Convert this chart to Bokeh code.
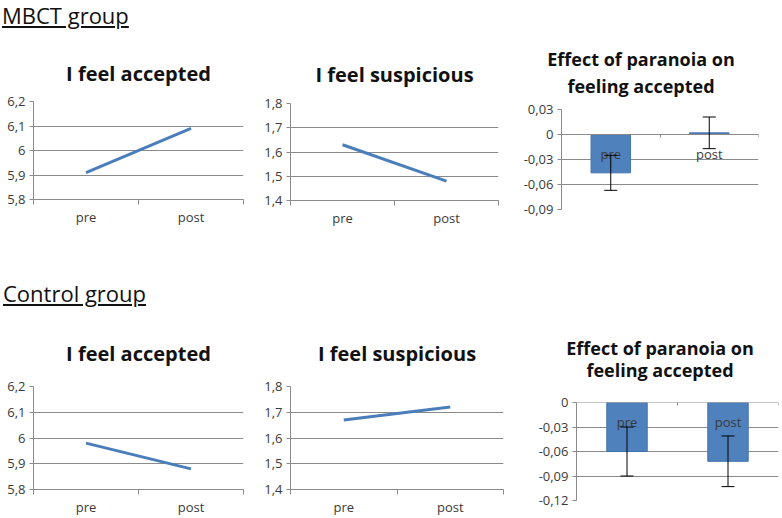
from bokeh.plotting import figure
from bokeh.models import (Range1d, FixedTicker, CustomJSTickFormatter, Div,
                          ColumnDataSource, Whisker, TeeHead)
from bokeh.layouts import column, row
from bokeh.embed import file_html
from bokeh.resources import INLINE

# ---- data ----
time_labels = ["pre", "post"]

mbct_accepted = [5.91, 6.09]
mbct_suspicious = [1.63, 1.48]
mbct_effect = [-0.046, 0.002]
mbct_effect_err = [0.021, 0.019]

control_accepted = [5.98, 5.88]
control_suspicious = [1.67, 1.72]
control_effect = [-0.060, -0.072]
control_effect_err = [0.030, 0.031]

accepted_ticks = [5.8, 5.9, 6.0, 6.1, 6.2]
suspicious_ticks = [1.4, 1.5, 1.6, 1.7, 1.8]
mbct_effect_ticks = [-0.09, -0.06, -0.03, 0.0, 0.03]
control_effect_ticks = [-0.12, -0.09, -0.06, -0.03, 0.0]

effect_title = ["Effect of paranoia on", "feeling accepted"]

# ---- style ----
FONT = "Open Sans"
BLUE_LINE = "#4A7EBB"
BLUE_BAR = "#4F81BD"
GRID = "#8a8a8a"
LABEL = "#3a3a3a"

num_fmt = CustomJSTickFormatter(code="""
    var v = Math.round(tick * 100) / 100;
    if (v === 0) { v = 0; }
    return v.toString().replace('.', ',');
""")


def base_fig(width, height, ticks, left, right, top, bottom):
    p = figure(width=width, height=height, output_backend="svg", toolbar_location=None,
               x_range=Range1d(0, len(time_labels)),
               y_range=Range1d(min(ticks), max(ticks)),
               min_border_left=left, min_border_right=right,
               min_border_top=top, min_border_bottom=bottom)
    p.outline_line_color = None
    p.background_fill_color = "white"
    p.border_fill_color = "white"
    p.xgrid.visible = False
    p.ygrid.grid_line_color = GRID
    p.ygrid.grid_line_width = 1
    # y axis
    p.yaxis.ticker = FixedTicker(ticks=ticks)
    p.yaxis.formatter = num_fmt
    p.yaxis.axis_line_color = GRID
    p.yaxis.major_tick_line_color = GRID
    p.yaxis.major_tick_out = 4
    p.yaxis.major_tick_in = 0
    p.yaxis.minor_tick_line_color = None
    p.yaxis.major_label_text_font = FONT
    p.yaxis.major_label_text_font_size = "13px"
    p.yaxis.major_label_text_color = LABEL
    p.yaxis.major_label_standoff = 4
    # x axis: category labels centred, ticks at category boundaries
    n = len(time_labels)
    p.xaxis.ticker = FixedTicker(ticks=[i + 0.5 for i in range(n)],
                                 minor_ticks=[i for i in range(n + 1)])
    p.xaxis.formatter = CustomJSTickFormatter(args=dict(labels=time_labels),
                                              code="return labels[Math.floor(tick)];")
    p.xaxis.axis_line_color = GRID
    p.xaxis.major_tick_line_color = None
    p.xaxis.minor_tick_line_color = GRID
    p.xaxis.minor_tick_out = 5
    p.xaxis.minor_tick_in = 0
    p.xaxis.major_label_text_font = FONT
    p.xaxis.major_label_text_font_size = "13px"
    p.xaxis.major_label_text_color = LABEL
    p.xaxis.major_label_standoff = 2
    return p


def line_panel(values, ticks, title, width, height, left, right, top, bottom, standoff):
    p = base_fig(width, height, ticks, left, right, top, bottom)
    xs = [i + 0.5 for i in range(len(time_labels))]
    p.line(xs, values, line_color=BLUE_LINE, line_width=3)
    t = p.title
    t.text = title
    t.align = "center"
    t.text_font = FONT
    t.text_font_size = "20px"
    t.text_font_style = "bold"
    t.text_color = "#111111"
    t.standoff = standoff
    return p


def bar_panel(values, errs, ticks, width, height, left, right, top, bottom):
    p = base_fig(width, height, ticks, left, right, top, bottom)
    xs = [i + 0.5 for i in range(len(time_labels))]
    src = ColumnDataSource(dict(x=xs, top=values,
                                upper=[v + e for v, e in zip(values, errs)],
                                lower=[v - e for v, e in zip(values, errs)]))
    p.vbar(x="x", top="top", bottom=0, width=0.4, source=src,
           fill_color=BLUE_BAR, line_color="#4272ab", line_width=1)
    p.add_layout(Whisker(source=src, base="x", upper="upper", lower="lower",
                         line_color="black", line_width=1, level="overlay",
                         upper_head=TeeHead(size=13, line_color="black", line_width=1),
                         lower_head=TeeHead(size=13, line_color="black", line_width=1)))
    p.xaxis.fixed_location = 0
    p.xaxis.minor_tick_out = 3
    p.xaxis.major_label_standoff = 4
    return p


def title_div(width, height, pad_top, margin_left, box_w, line_h):
    html = ("<div style='display:block; width:%dpx; margin-left:%dpx; text-align:center; "
            "padding-top:%dpx; line-height:%dpx'>%s</div>"
            % (box_w, margin_left, pad_top, line_h, "<br>".join(effect_title)))
    return Div(text=html, width=width, height=height, margin=0,
               styles={"font-family": FONT, "font-size": "18px", "font-weight": "bold",
                       "color": "#111111"})


H1 = 240
H2 = 208

f1 = line_panel(mbct_accepted, accepted_ticks, "I feel accepted", 260, H1, 33, 17, 71, 71, 30)
f2 = line_panel(mbct_suspicious, suspicious_ticks, "I feel suspicious", 260, H1, 30, 22, 73, 70, 31)
t3 = title_div(262, 70, 16, 0, 242, 27)
f3 = bar_panel(mbct_effect, mbct_effect_err, mbct_effect_ticks, 262, H1 - 70, 40, 24, 9, 61)

f4 = line_panel(control_accepted, accepted_ticks, "I feel accepted", 260, H2, 33, 17, 76, 29, 39)
f5 = line_panel(control_suspicious, suspicious_ticks, "I feel suspicious", 260, H2, 30, 17, 76, 28, 39)
t6 = title_div(262, 80, 27, 18, 244, 22)
f6 = bar_panel(control_effect, control_effect_err, control_effect_ticks, 262, H2 - 80, 56, 4, 12, 18)

head_style = {"font-family": FONT, "font-size": "22px", "color": "#111111"}
d1 = Div(text="<div style='padding-left:2px'><u>MBCT group</u></div>", width=782, height=30,
         styles=head_style, margin=0)
d2 = Div(text="<div style='padding-top:8px; padding-left:3px'><u>Control group</u></div>",
         width=782, height=40, styles=head_style, margin=0)

layout = column(d1,
                row(column(f1), column(f2), column(t3, f3, spacing=0), spacing=0),
                d2,
                row(column(f4), column(f5), column(t6, f6, spacing=0), spacing=0),
                spacing=0)

open("out.html", "w").write(file_html(layout, INLINE))
